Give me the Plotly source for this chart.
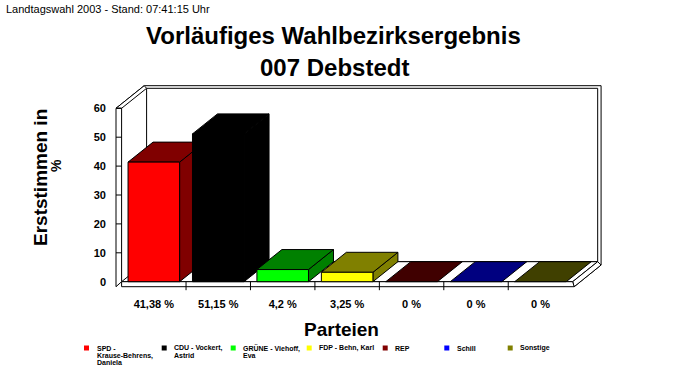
import plotly.graph_objects as go

# ---------------- data ----------------
parties = ["SPD - Krause-Behrens, Daniela", "CDU - Vockert, Astrid", "GRÜNE - Viehoff, Eva",
           "FDP - Behn, Karl", "REP", "Schill", "Sonstige"]
legend_lines = [["SPD -", "Krause-Behrens,", "Daniela"], ["CDU - Vockert,", "Astrid"],
                ["GRÜNE - Viehoff,", "Eva"], ["FDP - Behn, Karl"], ["REP"], ["Schill"], ["Sonstige"]]
values = [41.38, 51.15, 4.2, 3.25, 0, 0, 0]
value_labels = ["41,38 %", "51,15 %", "4,2 %", "3,25 %", "0 %", "0 %", "0 %"]
front_colors = ["#FF0000", "#000000", "#00FF00", "#FFFF00", "#800000", "#0000FF", "#808000"]
shade_colors = ["#800000", "#000000", "#008000", "#808000", "#400000", "#000080", "#404000"]
y_ticks = [0, 10, 20, 30, 40, 50, 60]
y_tick_labels = ["0", "10", "20", "30", "40", "50", "60"]

subtitle = "Landtagswahl 2003 - Stand: 07:41:15 Uhr"
title_1 = "Vorläufiges Wahlbezirksergebnis"
title_2 = "007 Debstedt"
y_title_1 = "Erststimmen in"
y_title_2 = "%"
x_title = "Parteien"

# ---------------- layout geometry (screen pixels) ----------------
W, H = 683, 380
PL, PR, PT, PB = 110, 612, 80, 292        # plot area edges
X0PX, XU = 121.6, 64.44                   # pixel of x=-0.5, px per category
Y0PX, YU = 281.7, 2.89                    # pixel of y=0, px per percent

xr = [(PL - X0PX) / XU - 0.5, (PR - X0PX) / XU - 0.5]
yr = [(Y0PX - PB) / YU, (Y0PX - PT) / YU]

def dxp(px):
    return px / XU

def dyp(px):
    return px / YU

def paper_x(px):
    return (px - PL) / (PR - PL)

def paper_y(py):
    return (PB - py) / (PB - PT)

DX, DY = dxp(25), dyp(20)
HW = 0.4
n = len(values)
A = -0.5
B = n - 0.5
AO = A - dxp(5.6)
FT = -dyp(5)
YMAX = y_ticks[-1]

BOLD = "Liberation Sans, Arial, sans-serif"

def path(pts, close=True):
    s = "M " + " L ".join(f"{x},{y}" for x, y in pts)
    return s + (" Z" if close else "")

LINE = dict(color="black", width=1)
shapes = []
def poly(pts, fill="white", close=True):
    shapes.append(dict(type="path", xref="x", yref="y", layer="below",
                       path=path(pts, close), line=LINE,
                       fillcolor=fill if close else None))

# back wall
poly([(A + DX, DY), (A + DX, YMAX + DY), (B + DX, YMAX + DY), (B + DX, DY)])
otl = (A + DX - dxp(2.4), YMAX + DY + dyp(2.6))
otr = (B + DX + dxp(3.4), YMAX + DY + dyp(2.6))
obr = (B + DX + dxp(3.4), DY - dyp(3.3))
poly([(AO, YMAX), otl, otr, obr, (B + dxp(1.5), FT)], close=False)
# left wall top
poly([(AO, YMAX), (A, YMAX), (A + DX, YMAX + DY), otl])
# floor
poly([(A, 0), (B, 0), (B + DX, DY), (A + DX, DY)])
poly([(B, 0), (B + DX, DY), obr, (B + dxp(1.5), FT)])
poly([(A, FT), (B + dxp(1.5), FT), (B, 0), (A, 0)])
for k in range(1, n):
    shapes.append(dict(type="line", xref="x", yref="y", layer="below",
                       x0=k - 0.5, x1=k - 0.5, y0=0, y1=FT - dyp(3.5), line=LINE))
# left wall front
poly([(AO, FT), (AO, YMAX), (A, YMAX), (A, 0)])
for t in y_ticks[1:]:
    shapes.append(dict(type="line", xref="x", yref="y", layer="below",
                       x0=AO, x1=A, y0=t, y1=t, line=LINE))

# ---------------- bars (3D faces) ----------------
fig = go.Figure()
def face(xs, ys, color):
    fig.add_trace(go.Scatter(x=xs + [xs[0]], y=ys + [ys[0]], mode="lines", fill="toself",
                             fillcolor=color, line=LINE, hoverinfo="skip", showlegend=False))

for i, v in enumerate(values):
    l, r = i - HW, i + HW
    if v > 0:
        face([r, r + DX, r + DX, r], [0, DY, v + DY, v], shade_colors[i])
    face([l, r, r + DX, l + DX], [v, v, v + DY, v + DY], shade_colors[i])
    if v > 0:
        face([l, r, r, l], [0, 0, v, v], front_colors[i])

# ---------------- annotations ----------------
ann = []
def text(t, x, y, size, xanchor="center", angle=0, bold=True):
    f = dict(family=BOLD, size=size, color="black")
    if bold:
        f["weight"] = "bold"
    ann.append(dict(text=t, x=paper_x(x), y=paper_y(y), xref="paper", yref="paper",
                    xanchor=xanchor, yanchor="middle", showarrow=False, textangle=angle, font=f))

text(subtitle, 4, 9, 11, xanchor="left", bold=False)
text(title_1, 333, 35, 24)
text(title_2, 334, 67.5, 24)
text(y_title_1, 40.5, 177.5, 19, angle=-90)
text(y_title_2, 56, 166, 14, angle=-90)
text(x_title, 341.3, 329.5, 19)

legend_x = [84, 161.7, 230.7, 306.7, 382.7, 444.3, 507.7]
for i, lines in enumerate(legend_lines):
    x0 = legend_x[i]
    shapes.append(dict(type="rect", xref="paper", yref="paper",
                       x0=paper_x(x0), x1=paper_x(x0 + 5), y0=paper_y(350.5), y1=paper_y(345.5),
                       fillcolor=front_colors[i], line=dict(width=0)))
    for j, txt in enumerate(lines):
        text(txt, x0 + 10.5, 348.3 + 7.2 * j, 7, xanchor="left")

fig.update_layout(
    width=W, height=H,
    margin=dict(l=PL, r=W - PR, t=PT, b=H - PB, pad=0),
    paper_bgcolor="white", plot_bgcolor="white",
    shapes=shapes, annotations=ann, showlegend=False,
    xaxis=dict(range=xr, showgrid=False, zeroline=False, showline=False,
               tickmode="array", tickvals=list(range(n)), ticktext=value_labels, ticks="",
               ticklabelstandoff=4,
               tickfont=dict(family=BOLD, size=11, color="black", weight="bold"),
               fixedrange=True),
    yaxis=dict(range=yr, showgrid=False, zeroline=False, showline=False,
               tickmode="array", tickvals=y_ticks, ticktext=y_tick_labels, ticks="",
               ticklabelstandoff=3,
               tickfont=dict(family=BOLD, size=11, color="black", weight="bold"),
               fixedrange=True),
)

fig.write_html("out.html", config={"displayModeBar": False},
               post_script="document.body.style.margin='0';")
